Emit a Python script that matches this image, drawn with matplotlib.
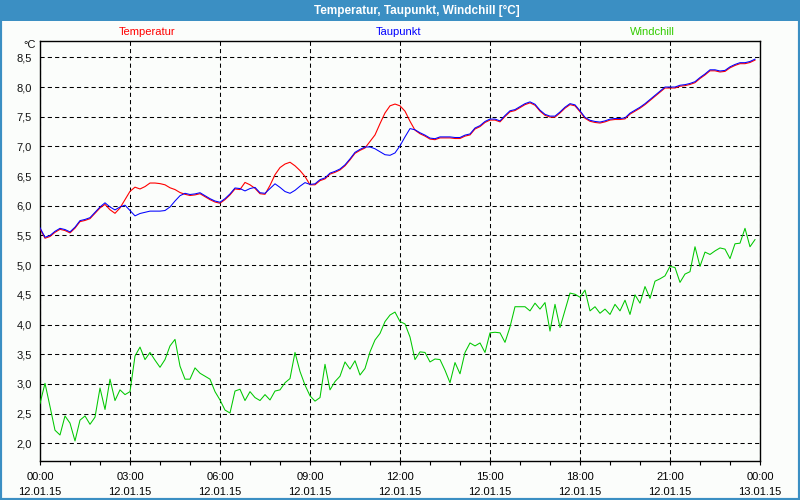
import numpy as np
import matplotlib
matplotlib.use("Agg")
import matplotlib.pyplot as plt
from matplotlib.patches import Rectangle
from matplotlib import transforms
from matplotlib.ticker import FuncFormatter

# ---- data (10-minute samples, 00:00 .. 23:50 on 12.01.15) ----
step_minutes = 10
taupunkt = [
    5.63, 5.47, 5.50, 5.57, 5.62, 5.60, 5.56, 5.64, 5.75, 5.77,
    5.80, 5.89, 5.98, 6.05, 5.98, 5.93, 5.98, 6.01, 5.92, 5.83,
    5.87, 5.89, 5.91, 5.91, 5.91, 5.92, 5.98, 6.08, 6.17, 6.21,
    6.19, 6.20, 6.22, 6.17, 6.12, 6.08, 6.06, 6.12, 6.20, 6.30,
    6.29, 6.25, 6.29, 6.31, 6.22, 6.21, 6.29, 6.37, 6.31, 6.24,
    6.21, 6.26, 6.33, 6.39, 6.36, 6.37, 6.44, 6.47, 6.55, 6.58,
    6.62, 6.69, 6.79, 6.90, 6.95, 6.99, 6.99, 6.96, 6.91, 6.86,
    6.85, 6.89, 7.01, 7.16, 7.30, 7.28, 7.23, 7.19, 7.14, 7.13,
    7.16, 7.16, 7.16, 7.15, 7.15, 7.19, 7.21, 7.31, 7.35, 7.42,
    7.46, 7.46, 7.43, 7.52, 7.60, 7.62, 7.67, 7.72, 7.75, 7.71,
    7.61, 7.54, 7.51, 7.51, 7.58, 7.66, 7.72, 7.70, 7.60, 7.49,
    7.44, 7.42, 7.41, 7.43, 7.46, 7.47, 7.47, 7.48, 7.56, 7.61,
    7.66, 7.72, 7.79, 7.86, 7.93, 8.00, 8.00, 8.00, 8.03, 8.04,
    8.06, 8.09, 8.16, 8.22, 8.29, 8.29, 8.27, 8.28, 8.34, 8.38,
    8.41, 8.41, 8.43, 8.47,
]
temperatur = [
    5.63, 5.47, 5.50, 5.57, 5.62, 5.60, 5.56, 5.64, 5.75, 5.77,
    5.80, 5.89, 5.98, 6.04, 5.95, 5.89, 5.98, 6.12, 6.26, 6.33,
    6.30, 6.34, 6.40, 6.40, 6.39, 6.37, 6.32, 6.29, 6.24, 6.21,
    6.19, 6.20, 6.22, 6.17, 6.12, 6.08, 6.06, 6.12, 6.20, 6.30,
    6.29, 6.41, 6.37, 6.31, 6.22, 6.21, 6.36, 6.54, 6.66, 6.72,
    6.75, 6.69, 6.61, 6.51, 6.37, 6.37, 6.44, 6.47, 6.55, 6.58,
    6.62, 6.69, 6.79, 6.90, 6.95, 6.99, 7.10, 7.21, 7.40, 7.58,
    7.70, 7.73, 7.70, 7.61, 7.44, 7.29, 7.23, 7.19, 7.14, 7.13,
    7.16, 7.16, 7.16, 7.15, 7.15, 7.19, 7.21, 7.31, 7.35, 7.42,
    7.46, 7.46, 7.43, 7.52, 7.60, 7.62, 7.67, 7.72, 7.75, 7.71,
    7.61, 7.54, 7.51, 7.51, 7.58, 7.66, 7.72, 7.70, 7.60, 7.49,
    7.44, 7.42, 7.41, 7.43, 7.46, 7.47, 7.47, 7.48, 7.56, 7.61,
    7.66, 7.72, 7.79, 7.86, 7.93, 8.00, 8.00, 8.00, 8.03, 8.04,
    8.06, 8.09, 8.16, 8.22, 8.29, 8.29, 8.27, 8.28, 8.34, 8.38,
    8.41, 8.41, 8.43, 8.47,
]
windchill = [
    2.67, 3.01, 2.62, 2.22, 2.14, 2.46, 2.34, 2.04, 2.39, 2.46,
    2.32, 2.44, 2.93, 2.57, 3.08, 2.72, 2.90, 2.82, 2.87, 3.47,
    3.62, 3.41, 3.53, 3.40, 3.28, 3.41, 3.64, 3.75, 3.30, 3.08,
    3.08, 3.27, 3.18, 3.13, 3.08, 2.87, 2.73, 2.56, 2.51, 2.88,
    2.91, 2.72, 2.87, 2.77, 2.72, 2.82, 2.73, 2.88, 2.90, 3.02,
    3.09, 3.53, 3.21, 2.98, 2.80, 2.71, 2.77, 3.33, 2.90, 3.04,
    3.13, 3.37, 3.25, 3.39, 3.15, 3.26, 3.54, 3.74, 3.85, 4.05,
    4.16, 4.21, 4.05, 4.01, 3.79, 3.41, 3.54, 3.53, 3.37, 3.42,
    3.41, 3.23, 3.02, 3.36, 3.17, 3.53, 3.69, 3.64, 3.69, 3.53,
    3.86, 3.87, 3.86, 3.70, 3.96, 4.30, 4.30, 4.30, 4.23, 4.36,
    4.26, 4.37, 3.89, 4.34, 3.95, 4.24, 4.53, 4.51, 4.46, 4.58,
    4.23, 4.30, 4.19, 4.26, 4.17, 4.34, 4.23, 4.41, 4.17, 4.50,
    4.36, 4.64, 4.44, 4.73, 4.77, 4.82, 4.98, 4.96, 4.71, 4.85,
    4.89, 5.31, 4.98, 5.22, 5.18, 5.24, 5.29, 5.27, 5.11, 5.36,
    5.37, 5.62, 5.31, 5.43,
]
series_names = ["Temperatur", "Taupunkt", "Windchill"]
x_tick_hours = [0, 3, 6, 9, 12, 15, 18, 21, 24]
x_tick_labels = ["00:00\n12.01.15", "03:00\n12.01.15", "06:00\n12.01.15",
                 "09:00\n12.01.15", "12:00\n12.01.15", "15:00\n12.01.15",
                 "18:00\n12.01.15", "21:00\n12.01.15", "00:00\n13.01.15"]
y_ticks = [2.0, 2.5, 3.0, 3.5, 4.0, 4.5, 5.0, 5.5, 6.0, 6.5, 7.0, 7.5, 8.0, 8.5]
title = "Temperatur, Taupunkt, Windchill [°C]"
unit = "°C"

# ---- styling ----
FONT = ["Liberation Sans", "DejaVu Sans"]
plt.rcParams["font.family"] = FONT
BAR = "#3b8fc3"
BG = "#fbfdfb"
RED, BLUE, GREEN = "#ff0000", "#0000ff", "#00c800"

hours = np.arange(len(windchill)) * step_minutes / 60.0

fig = plt.figure(figsize=(8, 5), dpi=100, facecolor=BG)
W, H = 800, 500
ax = fig.add_axes([40 / W, 1 - 460.7 / H, 720 / W, 420 / H])
ax.set_facecolor(BG)

# lines
red_tr = transforms.offset_copy(ax.transData, fig=fig, x=0, y=-1, units="dots")
ax.plot(hours, temperatur, color=RED, lw=0.8, transform=red_tr, zorder=3)
ax.plot(hours, taupunkt, color=BLUE, lw=0.75, zorder=4)
ax.plot(hours, windchill, color=GREEN, lw=0.75, zorder=3)

ax.set_xlim(0, 24)
ax.set_ylim(1.707, 8.78)

ax.set_yticks(y_ticks)
ax.yaxis.set_major_formatter(FuncFormatter(lambda v, p: f"{v:.1f}".replace(".", ",")))
ax.set_xticks(x_tick_hours)
ax.set_xticklabels(x_tick_labels, linespacing=1.65)
ax.set_xticks(np.arange(0, 25, 1), minor=True)

ax.tick_params(axis="y", length=0, pad=6, labelsize=8, colors="#111111")
ax.tick_params(axis="x", which="major", length=3, width=0.8, pad=5, labelsize=8, colors="black")
ax.tick_params(axis="x", which="minor", length=3, width=0.8)

ax.grid(True, which="major", color="black", lw=0.75, linestyle=(0, (4, 3)))
ax.set_axisbelow(True)
for s in ax.spines.values():
    s.set_color("black")
    s.set_linewidth(1.0)

# labels above plot
fig.text(147 / W, 1 - 32 / H, series_names[0], color=RED, ha="center", va="center", fontsize=8)
fig.text(399 / W, 1 - 32 / H, series_names[1], color=BLUE, ha="center", va="center", fontsize=8)
fig.text(652 / W, 1 - 32 / H, series_names[2], color="#33cc00", ha="center", va="center", fontsize=8)
fig.text(36 / W, 1 - 45.5 / H, unit, color="#111111", ha="right", va="center", fontsize=8)

# title bar and border
fig.patches.append(Rectangle((0, 1 - 20.5 / H), 1, 20.5 / H, transform=fig.transFigure,
                             facecolor=BAR, edgecolor="none", zorder=0))
fig.text(417 / W, 1 - 10.5 / H, title, color="white", ha="center", va="center",
         fontsize=8.5, fontweight="bold")
fig.patches.append(Rectangle((0, 0), 1, 1, transform=fig.transFigure, fill=False,
                             edgecolor=BAR, lw=3, zorder=0))

fig.savefig("out.png", dpi=100, facecolor=BG)
